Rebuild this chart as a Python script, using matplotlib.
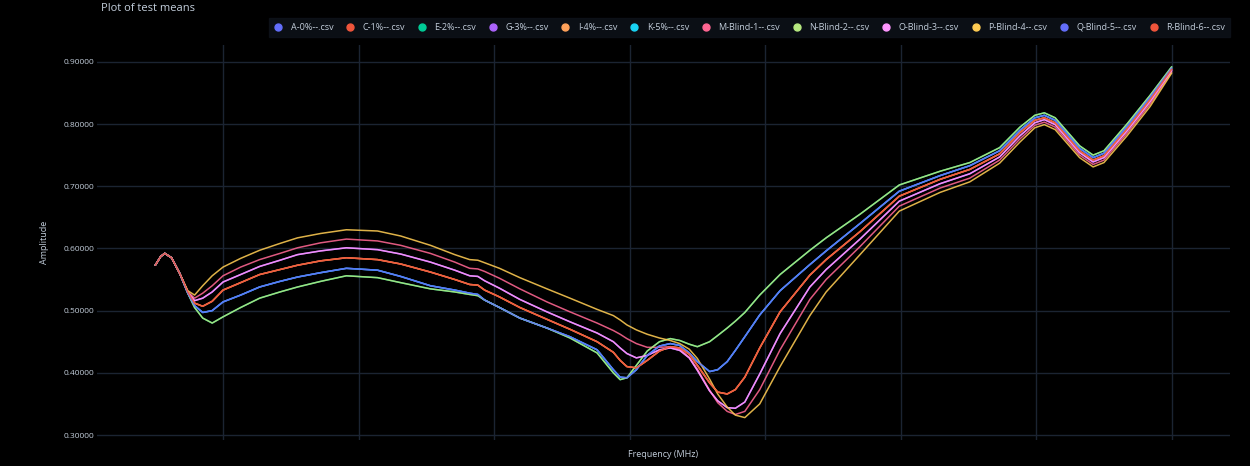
import matplotlib
matplotlib.use('Agg')
import matplotlib.pyplot as plt
from matplotlib.lines import Line2D

plt.rcParams['font.family'] = ['Open Sans', 'DejaVu Sans']

# frequency axis (MHz)
freq = [0.50, 0.54, 0.57, 0.62, 0.68, 0.74, 0.79, 0.85, 0.92, 1.00,
        1.13, 1.27, 1.42, 1.55, 1.72, 1.91, 2.14, 2.31, 2.53, 2.71, 2.82, 2.88, 2.93, 3.04,
        3.19, 3.39, 3.56, 3.76, 3.88, 3.93, 3.98, 4.05, 4.13, 4.22, 4.30, 4.37, 4.44, 4.50,
        4.59, 4.65, 4.72, 4.78, 4.85, 4.96, 5.11, 5.33, 5.45,
        5.70, 5.99, 6.29, 6.51, 6.73, 6.88, 6.99, 7.06, 7.14, 7.22, 7.32, 7.42, 7.50, 7.67, 7.84, 8.00]

# mean amplitude curves (traces that sit on top of each other share one list)
amp_green = [0.573, 0.587, 0.592, 0.585, 0.560, 0.528, 0.505, 0.488, 0.480, 0.490,
             0.505, 0.520, 0.530, 0.538, 0.547, 0.556, 0.553, 0.545, 0.535, 0.530, 0.526, 0.524, 0.517, 0.505,
             0.488, 0.472, 0.456, 0.432, 0.400, 0.389, 0.392, 0.412, 0.435, 0.450, 0.455, 0.452, 0.446, 0.442,
             0.450, 0.460, 0.472, 0.483, 0.497, 0.525, 0.558, 0.597, 0.617,
             0.655, 0.702, 0.724, 0.738, 0.762, 0.795, 0.814, 0.818, 0.810, 0.790, 0.765, 0.750, 0.757, 0.800, 0.846, 0.892]

amp_blue = [0.573, 0.587, 0.592, 0.585, 0.560, 0.528, 0.508, 0.497, 0.500, 0.514,
            0.525, 0.538, 0.547, 0.554, 0.561, 0.568, 0.565, 0.555, 0.540, 0.533, 0.528, 0.526, 0.517, 0.505,
            0.488, 0.472, 0.458, 0.437, 0.405, 0.393, 0.392, 0.405, 0.428, 0.443, 0.447, 0.444, 0.432, 0.418,
            0.402, 0.405, 0.418, 0.436, 0.458, 0.493, 0.532, 0.574, 0.596,
            0.640, 0.692, 0.717, 0.733, 0.757, 0.790, 0.810, 0.814, 0.806, 0.786, 0.761, 0.746, 0.753, 0.796, 0.843, 0.890]

amp_red = [0.573, 0.587, 0.592, 0.585, 0.560, 0.530, 0.512, 0.507, 0.515, 0.533,
           0.545, 0.558, 0.566, 0.573, 0.580, 0.585, 0.582, 0.575, 0.562, 0.550, 0.542, 0.541, 0.533, 0.522,
           0.505, 0.486, 0.470, 0.450, 0.433, 0.420, 0.410, 0.408, 0.420, 0.435, 0.442, 0.440, 0.430, 0.412,
           0.384, 0.369, 0.366, 0.373, 0.393, 0.440, 0.498, 0.557, 0.582,
           0.627, 0.684, 0.711, 0.727, 0.752, 0.786, 0.806, 0.810, 0.802, 0.782, 0.757, 0.742, 0.749, 0.792, 0.839, 0.888]

amp_purple = [0.573, 0.587, 0.592, 0.585, 0.560, 0.530, 0.516, 0.520, 0.530, 0.546,
              0.558, 0.571, 0.581, 0.590, 0.596, 0.601, 0.598, 0.591, 0.578, 0.565, 0.556, 0.555, 0.548, 0.536,
              0.518, 0.498, 0.482, 0.464, 0.450, 0.440, 0.431, 0.424, 0.428, 0.437, 0.440, 0.436, 0.424, 0.404,
              0.371, 0.355, 0.344, 0.343, 0.353, 0.398, 0.463, 0.538, 0.566,
              0.615, 0.676, 0.704, 0.720, 0.747, 0.781, 0.802, 0.807, 0.799, 0.779, 0.754, 0.739, 0.746, 0.789, 0.836, 0.886]

amp_pink = [0.573, 0.587, 0.592, 0.585, 0.560, 0.530, 0.520, 0.528, 0.540, 0.556,
            0.570, 0.582, 0.592, 0.601, 0.609, 0.615, 0.612, 0.605, 0.592, 0.578, 0.568, 0.567, 0.563, 0.552,
            0.535, 0.514, 0.498, 0.480, 0.468, 0.462, 0.455, 0.447, 0.441, 0.441, 0.442, 0.438, 0.425, 0.406,
            0.372, 0.352, 0.338, 0.333, 0.338, 0.373, 0.437, 0.518, 0.550,
            0.603, 0.668, 0.697, 0.713, 0.742, 0.776, 0.798, 0.803, 0.795, 0.775, 0.750, 0.735, 0.742, 0.785, 0.832, 0.884]

amp_yellow = [0.573, 0.587, 0.592, 0.585, 0.560, 0.532, 0.525, 0.540, 0.556, 0.570,
              0.584, 0.597, 0.608, 0.617, 0.624, 0.630, 0.628, 0.620, 0.605, 0.590, 0.582, 0.581, 0.577, 0.568,
              0.553, 0.535, 0.520, 0.502, 0.492, 0.485, 0.477, 0.469, 0.462, 0.456, 0.452, 0.447, 0.438, 0.423,
              0.390, 0.366, 0.345, 0.332, 0.328, 0.350, 0.410, 0.492, 0.530,
              0.590, 0.660, 0.690, 0.707, 0.737, 0.771, 0.794, 0.799, 0.791, 0.771, 0.746, 0.731, 0.738, 0.781, 0.828, 0.882]

file_names = ['A-0%--.csv', 'C-1%--.csv', 'E-2%--.csv', 'G-3%--.csv', 'I-4%--.csv', 'K-5%--.csv',
              'M-Blind-1--.csv', 'N-Blind-2--.csv', 'O-Blind-3--.csv', 'P-Blind-4--.csv',
              'Q-Blind-5--.csv', 'R-Blind-6--.csv']
file_means = [amp_blue, amp_red, amp_green, amp_purple, amp_red, amp_blue,
              amp_pink, amp_green, amp_purple, amp_yellow, amp_blue, amp_red]
colors = ['#636EFA', '#EF553B', '#00CC96', '#AB63FA', '#FFA15A', '#19D3F3',
          '#FF6692', '#B6E880', '#FF97FF', '#FECB52', '#636EFA', '#EF553B']

bg = '#000000'
grid_c = '#1b2432'
text_c = '#c3cedb'

fig = plt.figure(figsize=(12.5, 4.66), dpi=100, facecolor=bg)
ax = fig.add_axes([0.0776, 0.0558, 0.9064, 0.8476], facecolor=bg)

for name, vals, c in zip(file_names, file_means, colors):
    ax.plot(freq, vals, color=c, lw=1.1, alpha=0.88, label=name, solid_capstyle='round')

ax.set_xlim(0.07, 8.43)
ax.set_ylim(0.292, 0.927)
ax.set_xticks(range(1, 9))
ax.set_xticklabels([])
ax.set_yticks([0.3, 0.4, 0.5, 0.6, 0.7, 0.8, 0.9])
ax.set_yticklabels(['%.5f' % v for v in [0.3, 0.4, 0.5, 0.6, 0.7, 0.8, 0.9]])
ax.tick_params(length=0, pad=2, labelsize=6, labelcolor=text_c)
ax.grid(True, color=grid_c, lw=1)
ax.set_axisbelow(True)
for s in ax.spines.values():
    s.set_visible(False)

ax.set_xlabel('Frequency (MHz)', color=text_c, fontsize=6.5, labelpad=5)
ax.set_ylabel('Amplitude', color=text_c, fontsize=6.5, labelpad=10)

fig.text(0.081, 0.981, 'Plot of test means', color=text_c, fontsize=8, ha='left', va='center')

handles = [Line2D([], [], ls='none', marker='o', ms=5, color=c, mec=c) for c in colors]
leg = fig.legend(handles, file_names, loc='upper right', bbox_to_anchor=(0.984, 0.962),
                 ncol=12, fontsize=6.5, frameon=True, facecolor='#0e131b', edgecolor='#0e131b',
                 fancybox=False, handlelength=0.8, handletextpad=1.0, columnspacing=1.45,
                 borderpad=0.55, borderaxespad=0)
for t in leg.get_texts():
    t.set_color(text_c)

plt.savefig('out.png', dpi=100, facecolor=bg)
